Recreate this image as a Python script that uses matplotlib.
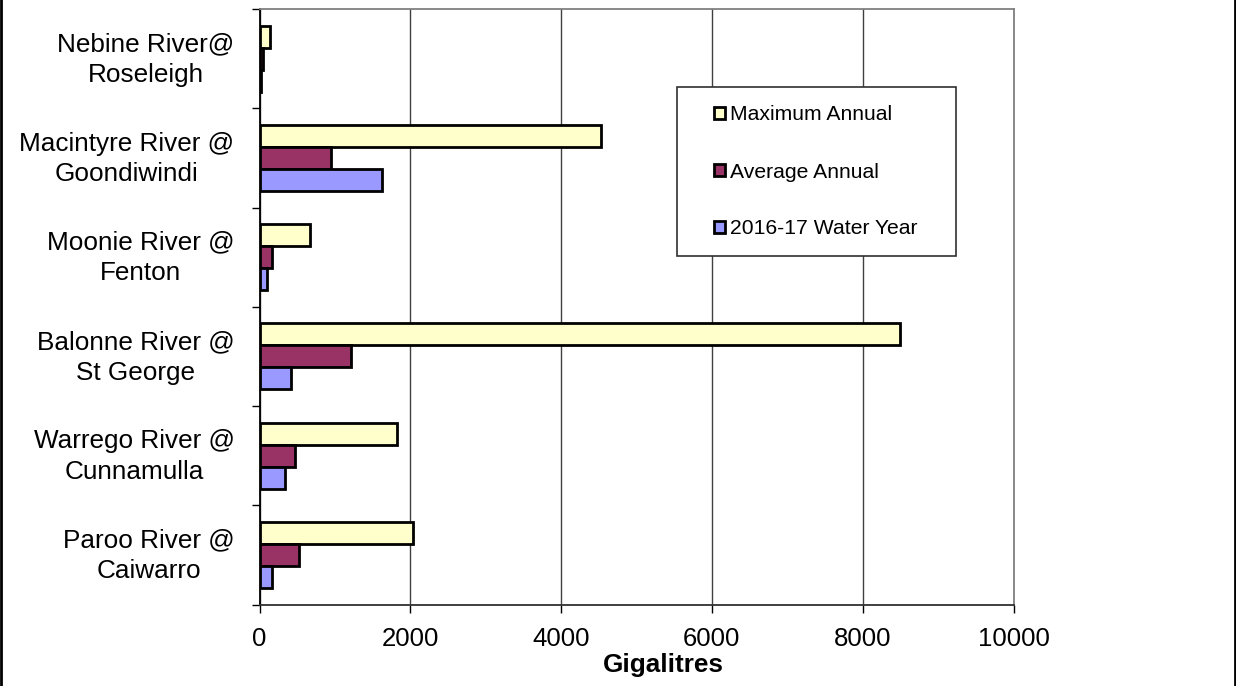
import matplotlib.pyplot as plt
import matplotlib.transforms as mtransforms
import numpy as np
from matplotlib.patches import Rectangle

# categories top to bottom as shown
sites = ["Nebine River@\nRoseleigh", "Macintyre River @\nGoondiwindi", "Moonie River @\nFenton",
         "Balonne River @\nSt George", "Warrego River @\nCunnamulla", "Paroo River @\nCaiwarro"]
maxAnnual = [145, 4525, 675, 8490, 1830, 2040]
avgAnnual = [40, 950, 168, 1208, 475, 527]
waterYear = [20, 1630, 106, 421, 344, 166]
seriesNames = ["Maximum Annual", "Average Annual", "2016-17 Water Year"]
seriesColors = ["#FFFFCC", "#993366", "#9999FF"]

plt.rcParams['font.family'] = ['Liberation Sans', 'DejaVu Sans']

fig = plt.figure(figsize=(12.36, 6.86), dpi=100)
ax = fig.add_axes([259.5/1236, 1 - 604.5/686, 754/1236, 595.5/686])

y = np.arange(len(sites))
h = 0.222
for k, (vals, name, col) in enumerate(zip([maxAnnual, avgAnnual, waterYear], seriesNames, seriesColors)):
    ax.barh(y + (k - 1) * h, vals, height=h, color=col, edgecolor="black", linewidth=2.0, label=name, zorder=3)

ax.set_xlim(0, 10000)
ax.set_ylim(len(sites) - 0.5, -0.5)
ax.set_xticks(np.arange(0, 10001, 2000))
ax.tick_params(axis='x', direction='out', length=6, width=1, labelsize=18.5, pad=10)

# tick marks at the category boundaries, labels drawn as text at the centres
ax.set_yticks([])
ax.set_yticks(np.arange(-0.5, len(sites), 1), minor=True)
ax.tick_params(axis='y', which='minor', direction='out', length=6, width=1)
labelTrans = mtransforms.blended_transform_factory(ax.transAxes, ax.transData) + \
    mtransforms.ScaledTranslation(-25/100, -1/100, fig.dpi_scale_trans)
for yi, name in zip(y, sites):
    ax.text(0, yi, name, transform=labelTrans, ha='right', va='center', multialignment='center',
            linespacing=1.35, fontsize=18.8)

ax.grid(axis='x', color='#404040', linewidth=1, zorder=0)
ax.set_axisbelow(True)
ax.spines['left'].set_color('black')
ax.spines['bottom'].set_color('#303030')
ax.spines['top'].set_color('#808080')
ax.spines['right'].set_color('#808080')
for s in ax.spines.values():
    s.set_linewidth(1.3)

ax.set_xlabel("Gigalitres", fontsize=18.8, fontweight='bold')
ax.xaxis.set_label_coords(0.536, -0.102)
ax.xaxis.label.set_va('center')

# legend with its own frame
fig.patches.append(Rectangle((677/1236, 1 - 256/686), 279/1236, 169/686, transform=fig.transFigure,
                             facecolor='white', edgecolor='#303030', linewidth=1.2, zorder=1))
leg = fig.legend(loc='center', bbox_to_anchor=(816/1236, 1 - 172/686), frameon=False, fontsize=15.2,
                 handlelength=0.5, handleheight=0.5, handletextpad=0.25, labelspacing=1.8)
leg.set_zorder(5)

# figure border on left and right
fig.add_artist(plt.Line2D([1/1236, 1/1236], [0, 1], transform=fig.transFigure, color='black', linewidth=2))
fig.add_artist(plt.Line2D([1235/1236, 1235/1236], [0, 1], transform=fig.transFigure, color='black', linewidth=2))

fig.savefig("out.png", dpi=100)
